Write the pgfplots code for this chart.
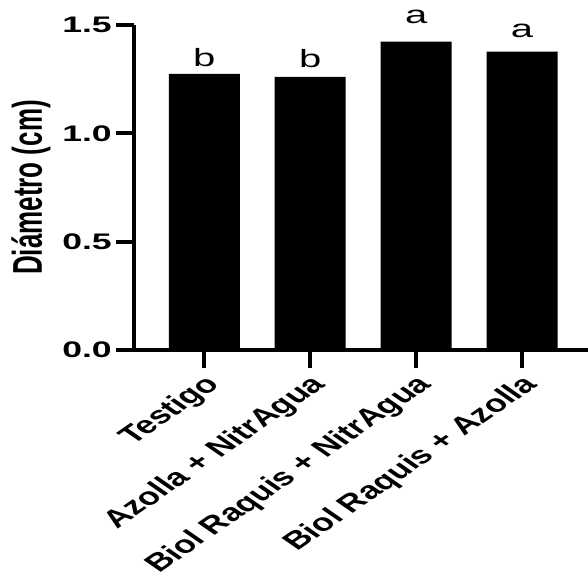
\documentclass[border=0pt]{standalone}
\usepackage{pgfplots}
\pgfplotsset{compat=1.18}
\usepackage{fontspec}
\setmainfont{Liberation Sans}

\newcommand{\ticklabelfont}{\fontsize{22.5}{26}\selectfont\bfseries}
\newcommand{\catfont}{\fontsize{24.5}{28}\selectfont\bfseries}
\newcommand{\letterfont}{\fontsize{25}{30}\selectfont}

\begin{document}
\begin{tikzpicture}
\begin{axis}[
  scale only axis,
  width=454pt, height=325pt,
  xmin=-0.664, xmax=3.623,
  ymin=0, ymax=1.5,
  axis lines=left,
  axis line style={line width=4pt, -},
  every outer x axis line/.append style={-},
  every outer y axis line/.append style={-},
  tick align=outside,
  major tick length=18pt,
  tick style={line width=4pt, black},
  xtick={0,1,2,3},
  xticklabels={Testigo, Azolla + NitrAgua, Biol Raquis + NitrAgua, Biol Raquis + Azolla},
  ytick={0,0.5,1,1.5},
  yticklabels={0.0,0.5,1.0,1.5},
  y tick label style={font=\ticklabelfont, xshift=-4pt, xscale=1.58, anchor=east, inner sep=0pt},
  x tick label style={font=\catfont, xshift=10pt, yshift=-13pt, xscale=1.45, rotate=45,
    anchor=east, inner sep=0pt},
  ylabel={Diámetro (cm)},
  ylabel style={font=\fontsize{26}{30}\selectfont\bfseries, yscale=1.6,
    at={(axis description cs:-0.183,0.5)}, anchor=south, inner sep=0pt},
  clip=false,
]
\addplot[ybar, bar width=71pt, fill=black, draw=none]
  coordinates {(0,1.274) (1,1.261) (2,1.423) (3,1.377)};
% significance letters
\node[font=\letterfont, xscale=1.6, anchor=base, inner sep=0pt] at (axis cs:0,1.308) {b};
\node[font=\letterfont, xscale=1.6, anchor=base, inner sep=0pt] at (axis cs:1,1.306) {b};
\node[font=\letterfont, xscale=1.6, anchor=base, inner sep=0pt] at (axis cs:2,1.505) {a};
\node[font=\letterfont, xscale=1.6, anchor=base, inner sep=0pt] at (axis cs:3,1.442) {a};
\end{axis}
\pgfresetboundingbox
\useasboundingbox (-134pt,-230pt) rectangle (454pt,350pt);
\end{tikzpicture}
\end{document}
